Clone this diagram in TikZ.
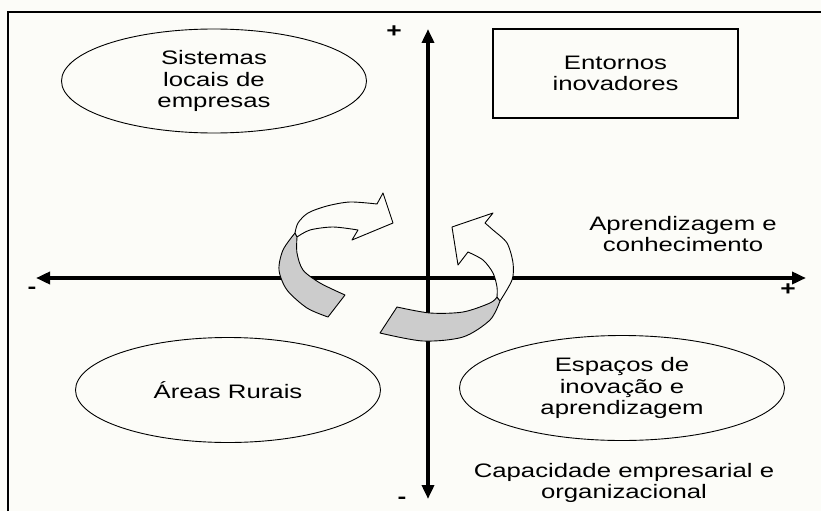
\documentclass[tikz,border=0pt]{standalone}
\usepackage{fontspec}
\setmainfont{Liberation Sans}[FakeStretch=1.32]
\usetikzlibrary{shapes.geometric,arrows.meta}
\definecolor{paper}{RGB}{252,252,248}
\definecolor{ribbon}{RGB}{204,204,204}
\tikzset{
    region/.style={ellipse,draw,line width=0.9pt,inner sep=0pt,align=center},
    axis/.style={line width=4pt,{Triangle[length=14pt,width=12pt]}-{Triangle[length=14pt,width=12pt]}},
    sign/.style={font=\bfseries\fontsize{20}{20}\selectfont,inner sep=0pt},
    band/.style={draw,line width=0.9pt,line join=round},
}
\begin{document}
\begin{tikzpicture}[x=1pt,y=-1pt,font=\fontsize{19.5}{21.5}\selectfont]
                \fill[paper] (0,0) rectangle (821,511);
                \useasboundingbox (0,0) rectangle (821,511);
                \draw[line width=1.8pt] (8,511) -- (8,12) -- (821,12);
                % axes
                \coordinate (west) at (36,278);
                \coordinate (east) at (806,278);
                \coordinate (north) at (428,29);
                \coordinate (south) at (428,499);
                \draw[axis] (west) -- (east);
                \draw[axis] (south) -- (north);
                \node[sign] (plusN) at (394,32) {+};
                \node[sign] (minusS) at (402,500) {-};
                \node[sign] (minusW) at (32,290) {-};
                \node[sign] (plusE) at (788,290) {+};
                % quadrants
                \node[region,minimum width=305pt,minimum height=104pt] (sistemas) at (214,81)
                    {Sistemas\\locais de\\empresas};
                \node[draw,line width=1.5pt,minimum width=245pt,minimum height=89pt,align=center] (entornos) at (615.5,73.5)
                    {Entornos\\inovadores};
                \node[region,minimum width=305pt,minimum height=105pt] (rurais) at (228,390)
                    {Áreas Rurais};
                \node[region,minimum width=325pt,minimum height=105pt] (espacos) at (622,388)
                    {Espaços de\\inovação e\\aprendizagem};
                \node[align=center] (aprend) at (683,234) {Aprendizagem e\\conhecimento};
                \node[align=center] (capac) at (624,483) {Capacidade empresarial e\\organizacional};
                % left ribbon
                \filldraw[band,fill=ribbon] (328,317) -- (345,295)
                    -- plot[smooth] coordinates {(345,295) (320,283) (303,270) (297,253) (297,237)}
                    -- (295,233)
                    -- plot[smooth] coordinates {(295,233) (283,250) (279,270) (287,290) (307,308) (328,317)}
                    -- cycle;
                \filldraw[band,fill=paper] (295,233)
                    -- plot[smooth] coordinates {(295,233) (298,223) (308,213) (327,206) (350,202) (377,204)}
                    -- (383,193) -- (393,223) -- (352,240) -- (358,230)
                    -- plot[smooth] coordinates {(358,230) (333,227) (310,230) (297,237)}
                    -- cycle;
                % right ribbon
                \filldraw[band,fill=ribbon] (380,333) -- (397,307)
                    -- plot[smooth] coordinates {(397,307) (430,313) (463,312) (490,303) (497,297)}
                    -- (500,301)
                    -- plot[smooth] coordinates {(500,301) (490,320) (463,337) (423,341) (380,333)}
                    -- cycle;
                \filldraw[band,fill=paper] (500,301)
                    -- plot[smooth] coordinates {(500,301) (512,280) (513,263) (507,243) (493,230) (485,223)}
                    -- (493,213) -- (452,227) -- (458,265) -- (468,252)
                    -- plot[smooth] coordinates {(468,252) (483,260) (493,273) (497,287) (497,297)}
                    -- cycle;
            \end{tikzpicture}
\end{document}
